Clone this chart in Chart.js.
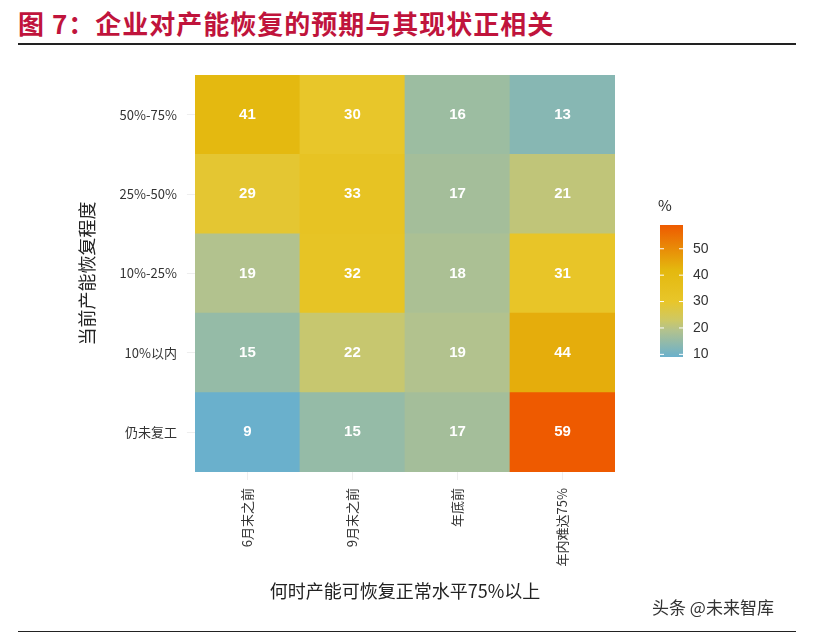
<!DOCTYPE html>
<html><head><meta charset="utf-8">
<script src="https://cdn.jsdelivr.net/npm/chart.js@4/dist/chart.umd.min.js"></script>
<style>
body{margin:0;width:820px;height:636px;background:#fff;position:relative;font-family:"Noto Sans CJK SC",sans-serif;overflow:hidden}
#title{position:absolute;left:18px;top:4px;font-size:26px;font-weight:bold;color:#c0143c;letter-spacing:1px}
#l1{position:absolute;left:18px;top:43px;width:778px;height:2px;background:#222}
#l2{position:absolute;left:18px;top:631px;width:778px;height:1px;background:#222}
#wrap{position:absolute;left:0;top:50px;width:820px;height:570px}
#cb{position:absolute;left:650px;top:195px}
#src{position:absolute;left:652px;top:594px;font-size:17px;color:#333}
</style></head><body>
<div id="title">图 7：企业对产能恢复的预期与其现状正相关</div>
<div id="l1"></div><div id="l2"></div>
<div id="wrap"><canvas id="c" width="820" height="570"></canvas></div>
<canvas id="cb" width="80" height="175"></canvas>
<div id="src">头条 @未来智库</div>
<script>
const cols=["6月末之前","9月末之前","年底前","年内难达75%"];
const rows=["仍未复工","10%以内","10%-25%","25%-50%","50%-75%"]; // bottom to top
const vals=[[9,15,17,59],[15,22,19,44],[19,32,18,31],[29,33,17,21],[41,30,16,13]];
const legendTicks=[10,20,30,40,50];
const stops=[[9,[106,176,204]],[19,[178,194,142]],[23,[206,200,100]],[30,[232,198,42]],[42,[228,184,14]],[59,[238,90,0]]];
function col(v){for(let i=1;i<stops.length;i++){if(v<=stops[i][0]){const[a,ca]=stops[i-1],[b,cb]=stops[i];const t=(v-a)/(b-a);return `rgb(${ca.map((x,k)=>Math.round(x+(cb[k]-x)*t)).join(',')})`;}}return 'rgb(238,90,0)';}
const datasets=rows.map((r,i)=>({label:r,data:cols.map(()=>1),vals:vals[i],backgroundColor:vals[i].map(col),borderWidth:0,barPercentage:1,categoryPercentage:1}));
const labelPlugin={id:'lbl',afterDatasetsDraw(ch){const ctx=ch.ctx;ctx.save();ctx.fillStyle='#fff';ctx.font='bold 15px Arial';ctx.textAlign='center';ctx.textBaseline='middle';
ch.data.datasets.forEach((d,i)=>{ch.getDatasetMeta(i).data.forEach((e,j)=>{ctx.fillText(d.vals[j],e.x,(e.y+e.base)/2);});});ctx.restore();}};
new Chart(document.getElementById('c'),{type:'bar',data:{labels:cols,datasets},plugins:[labelPlugin],
options:{responsive:false,animation:false,layout:{padding:{left:72,right:205,top:25,bottom:14}},
plugins:{legend:{display:false},tooltip:{enabled:false}},
scales:{x:{stacked:true,grid:{color:'#eee',offset:false},border:{display:false},
ticks:{color:'#333',font:{size:13,family:'Noto Sans CJK SC'},maxRotation:90,minRotation:90,padding:8},
title:{display:true,text:'何时产能可恢复正常水平75%以上',font:{size:18,family:'Noto Sans CJK SC'},color:'#222',padding:{top:6}}},
y:{stacked:true,min:0,max:5,afterBuildTicks(s){s.ticks=[0.5,1.5,2.5,3.5,4.5].map(v=>({value:v}));},
ticks:{color:'#333',font:{size:13,family:'Noto Sans CJK SC'},callback:(v)=>rows[Math.floor(v)],padding:10},
grid:{color:'#eee'},border:{display:false},
title:{display:true,text:'当前产能恢复程度',font:{size:18,family:'Noto Sans CJK SC'},color:'#222',padding:{bottom:12}}}}}});
const cb=document.getElementById('cb').getContext('2d');
cb.font='15px Noto Sans CJK SC';cb.fillStyle='#222';cb.fillText('%',8,16);
const barTop=30,barH=132,x0=10,w=23;
const g=cb.createLinearGradient(0,barTop+barH,0,barTop);
stops.forEach(([v,c])=>g.addColorStop((v-9)/50,`rgb(${c.join(',')})`));
cb.fillStyle=g;cb.fillRect(x0,barTop,w,barH);
cb.font='14px Arial';cb.fillStyle='#333';cb.textBaseline='middle';
legendTicks.forEach(v=>{const y=barTop+barH-(v-9)/50*barH;cb.strokeStyle='#fff';cb.beginPath();cb.moveTo(x0,y);cb.lineTo(x0+4,y);cb.moveTo(x0+w-4,y);cb.lineTo(x0+w,y);cb.stroke();cb.fillText(v,x0+w+10,y);});
</script></body></html>
